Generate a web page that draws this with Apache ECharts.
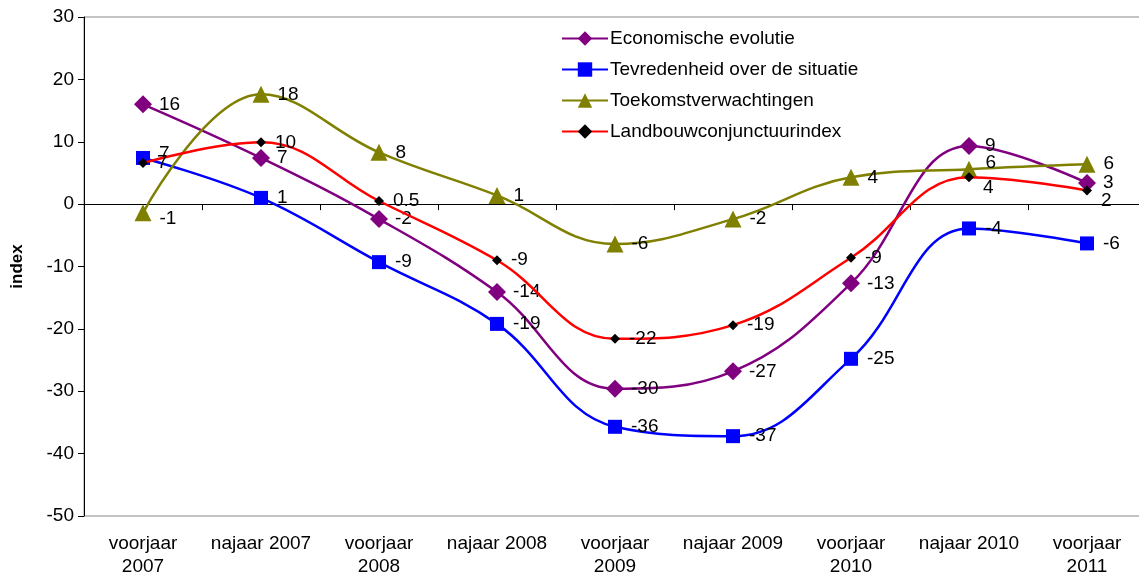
<!DOCTYPE html>
<html>
<head>
<meta charset="utf-8">
<script src="https://cdn.jsdelivr.net/npm/echarts@6/dist/echarts.min.js"></script>
<style>html,body{margin:0;padding:0;background:#fff}#c{width:1139px;height:581px}</style>
</head>
<body>
<div id="c"></div>
<script>
const categories = ['voorjaar\n2007','najaar 2007','voorjaar\n2008','najaar 2008','voorjaar\n2009','najaar 2009','voorjaar\n2010','najaar 2010','voorjaar\n2011'];
const seriesNames = ['Economische evolutie','Tevredenheid over de situatie','Toekomstverwachtingen','Landbouwconjunctuurindex'];
const economische = [16, 7.4, -2.4, -14.1, -29.6, -26.8, -12.7, 9.3, 3.4];
const tevredenheid = [7.4, 1.0, -9.3, -19.2, -35.7, -37.2, -24.8, -3.9, -6.3];
const toekomst = [-1.4, 17.6, 8.3, 1.4, -6.4, -2.4, 4.3, 5.6, 6.4];
const landbouw = [6.6, 9.9, 0.5, -9.0, -21.6, -19.4, -8.6, 4.3, 2.2];
const yTicks = [-50, -40, -30, -20, -10, 0, 10, 20, 30];

const FONT = 'Liberation Sans, Arial, sans-serif';
const FS = 19;
const SMOOTH = 0.4;
function fmt(v){ const a=Math.abs(v); return a<1 ? String(v) : String(Math.sign(v)*Math.round(a)); }
function build(vals, offsets){
  return vals.map((v,i)=>{
    const o = offsets[i];
    const item = {value:v};
    if(o){ item.label = {offset:o}; }
    return item;
  });
}
const lblBase = {show:true, position:'right', color:'#000', fontSize:FS, fontFamily:FONT, formatter:p=>fmt(p.value)};

const chart = echarts.init(document.getElementById('c'));
chart.setOption({
  animation:false,
  backgroundColor:'#fff',
  grid:{left:84, top:17, bottom:65, width:1062, outerBoundsMode:'none', show:true, borderColor:'#888', borderWidth:1, containLabel:false},
  legend:{
    orient:'vertical', left:556, top:24, itemWidth:46, itemHeight:18, itemGap:12,
    textStyle:{fontSize:FS, fontFamily:FONT, color:'#000', padding:[0,0,0,-3]},
    data:seriesNames
  },
  xAxis:[
    {type:'category', data:categories, position:'bottom', boundaryGap:true,
     axisLine:{onZero:false, show:false}, axisTick:{show:false},
     axisLabel:{fontSize:FS, fontFamily:FONT, color:'#000', margin:16, lineHeight:23, interval:0}},
    {type:'category', data:categories, position:'bottom', boundaryGap:true,
     axisLine:{onZero:true, show:true, lineStyle:{color:'#000', width:1}},
     axisTick:{show:true, inside:false, length:6, lineStyle:{color:'#000'}},
     axisLabel:{show:false}}
  ],
  yAxis:{type:'value', min:-50, max:30, interval:10,
    name:'index', nameLocation:'middle', nameGap:58, nameRotate:90,
    nameTextStyle:{fontSize:17, fontWeight:'bold', fontFamily:FONT, color:'#000'},
    axisLine:{show:true, lineStyle:{color:'#000', width:1}},
    axisTick:{show:true, length:6, lineStyle:{color:'#000'}},
    axisLabel:{fontSize:FS, fontFamily:FONT, color:'#000', margin:10},
    splitLine:{show:false}},
  series:[
    {name:seriesNames[0], type:'line', smooth:SMOOTH, data:build(economische, {}), symbol:'diamond', symbolSize:18,
     lineStyle:{color:'#800080', width:2.5}, itemStyle:{color:'#800080'}, label:Object.assign({distance:7}, lblBase), z:3},
    {name:seriesNames[1], type:'line', smooth:SMOOTH, data:build(tevredenheid, {0:[0,-4]}), symbol:'rect', symbolSize:14,
     lineStyle:{color:'#0000FF', width:2.5}, itemStyle:{color:'#0000FF'}, label:Object.assign({distance:9}, lblBase), z:3},
    {name:seriesNames[2], type:'line', smooth:SMOOTH, data:build(toekomst, {0:[0,6], 7:[0,-6]}), symbol:'triangle', symbolSize:17,
     lineStyle:{color:'#808000', width:2.5}, itemStyle:{color:'#808000'}, label:Object.assign({distance:8}, lblBase), z:3},
    {name:seriesNames[3], type:'line', smooth:SMOOTH, data:build(landbouw, {7:[0,10], 8:[0,10]}), symbol:'diamond', symbolSize:10,
     lineStyle:{color:'#FF0000', width:2.5}, itemStyle:{color:'#000'}, label:Object.assign({distance:9}, lblBase), z:4}
  ]
});
</script>
</body>
</html>
